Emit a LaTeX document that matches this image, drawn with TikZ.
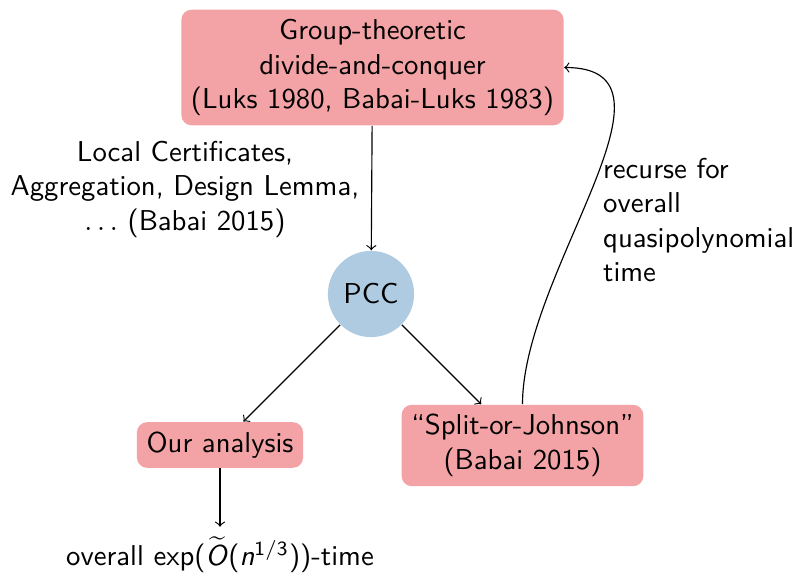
\documentclass[tikz,border=0pt]{standalone}
\renewcommand{\familydefault}{\sfdefault}
\definecolor{boxpink}{RGB}{243,163,165}
\definecolor{pccblue}{RGB}{175,203,225}
\begin{document}
\begin{tikzpicture}[x=0.348pt, y=-0.348pt,
  box/.style={fill=boxpink, rounded corners=3.5pt, align=center, inner sep=3.33pt},
  conn/.style={->, line width=0.4pt},
  plain/.style={align=center, inner sep=3.33pt}]
\useasboundingbox (0,0) rectangle (799,577);
\node[box] (top) at (372.5,67.5) {Group-theoretic\\divide-and-conquer\\(Luks 1980, Babai-Luks 1983)};
\node[plain] (lbl) at (185,189) {Local Certificates,\\Aggregation, Design Lemma,\\$\ldots$ (Babai 2015)};
\node[circle, fill=pccblue, minimum size=30pt, inner sep=1pt] (pcc) at (371,294) {PCC};
\node[box] (our) at (220,445) {Our analysis};
\node[box] (split) at (522.5,445.5) {``Split-or-Johnson''\\(Babai 2015)};
\node[plain] (res) at (220,555) {overall exp($\widetilde{\mbox{\textsl{O}}}$(\textsl{n}$^{\mathsf{1/3}}$))-time};
\node[align=left, anchor=west, inner sep=3.33pt] (rec) at (593,220) {recurse for\\overall\\quasipolynomial\\time};
\draw[conn] (top) -- (pcc);
\draw[conn] (pcc) -- (our);
\draw[conn] (pcc) -- (split);
\draw[conn] (our) -- (res);
\draw[conn] (split.north) to[out=90, in=0] (top.east);
\end{tikzpicture}
\end{document}
